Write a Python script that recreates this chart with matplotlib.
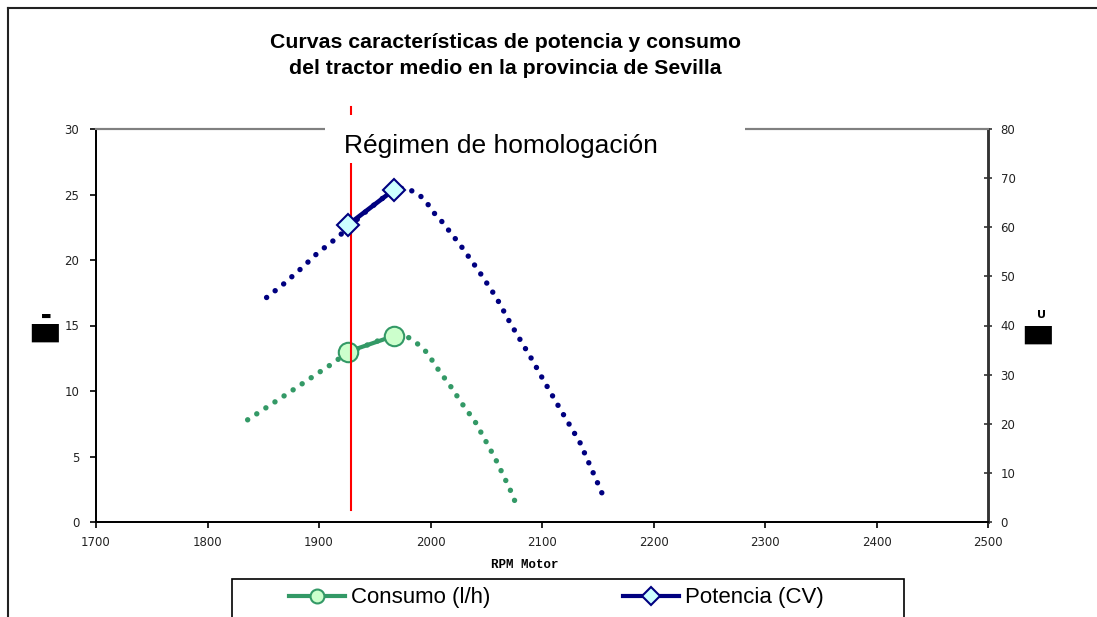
import matplotlib
matplotlib.use("Agg")
import matplotlib.pyplot as plt
from matplotlib import font_manager
from matplotlib.lines import Line2D
from matplotlib.patches import Rectangle

# --- data ---
rpm_consumo_curva = [1836, 1870, 1905, 1914, 1922, 1940, 1955, 1968, 1975, 1980, 1989, 1997,
                     2002, 2007, 2018, 2029, 2040, 2049, 2058, 2066, 2074, 2077]
consumo_curva = [7.8, 9.7, 11.7, 12.2, 12.75, 13.4, 13.9, 14.25, 14.25, 14.1, 13.56, 12.92,
                 12.27, 11.63, 10.36, 8.95, 7.66, 6.26, 4.86, 3.44, 2.0, 1.24]

rpm_potencia_curva = [1853, 1868, 1884, 1898, 1913, 1922, 1940, 1955, 1967, 1975, 1980, 1990,
                      1997, 2002, 2009, 2027, 2043, 2059, 2072, 2082, 2092, 2101, 2115, 2134,
                      2149, 2156]
potencia_curva = [45.7, 48.4, 51.6, 54.6, 57.3, 59.0, 62.8, 65.6, 67.3, 68.0, 67.8, 66.6,
                  64.9, 63.2, 61.5, 56.3, 51.2, 45.7, 40.3, 36.5, 32.7, 29.0, 23.5, 16.2,
                  8.4, 4.7]

rpm_puntos = [1926, 1967]
consumo_puntos = [13.0, 14.2]
potencia_puntos = [60.5, 67.6]

regimen_homologacion = 1929

x_ticks = list(range(1700, 2501, 100))
y_left_ticks = list(range(0, 31, 5))
y_right_ticks = list(range(0, 81, 10))

VERDE = "#339966"
VERDE_CLARO = "#ccffcc"
AZUL = "#000080"
AZUL_CLARO = "#ccffff"

fuentes = {f.name for f in font_manager.fontManager.ttflist}
fuente_leyenda = "Liberation Sans Narrow" if "Liberation Sans Narrow" in fuentes else "Liberation Sans"
tam_leyenda = 19 if fuente_leyenda == "Liberation Sans Narrow" else 16

W, H = 1097, 617
fig = plt.figure(figsize=(W / 100, H / 100), dpi=100)
ax = fig.add_axes([96 / W, 1 - 522 / H, 892 / W, 393 / H])
ax2 = ax.twinx()

# dotted characteristic curves
dotted = (0, (0.01, 2.0))
ax.plot(rpm_consumo_curva, consumo_curva, color=VERDE, lw=3.9, linestyle=dotted,
        dash_capstyle="round", zorder=2)
ax2.plot(rpm_potencia_curva, potencia_curva, color=AZUL, lw=3.9, linestyle=dotted,
         dash_capstyle="round", zorder=2)

# homologation points
ax.plot(rpm_puntos, consumo_puntos, color=VERDE, lw=3, marker="o", markersize=14,
        markerfacecolor=VERDE_CLARO, markeredgecolor=VERDE, markeredgewidth=1.5, zorder=3)
ax2.plot(rpm_puntos, potencia_puntos, color=AZUL, lw=3.3, marker="D", markersize=11.5,
         markerfacecolor=AZUL_CLARO, markeredgecolor=AZUL, markeredgewidth=1.5, zorder=3)

# vertical line at homologation regime
ax.plot([regimen_homologacion, regimen_homologacion], [0.9, 31.7], color="red", lw=1.5,
        clip_on=False, zorder=4)

ax.set_xlim(1700, 2500)
ax.set_ylim(0, 30)
ax2.set_ylim(0, 80)
ax.set_xticks(x_ticks)
ax.set_yticks(y_left_ticks)
ax2.set_yticks(y_right_ticks)

for a in (ax, ax2):
    a.tick_params(labelsize=8.5, labelcolor="#222222", width=1.2)
    a.spines["left"].set_color("black")
    a.spines["bottom"].set_color("black")
    a.spines["top"].set_color("#808080")
    a.spines["right"].set_color("#333333")
    a.spines["left"].set_linewidth(1.3)
    a.spines["bottom"].set_linewidth(1.3)
    a.spines["top"].set_linewidth(1.5)
    a.spines["right"].set_linewidth(1.8)
ax.tick_params(axis="y", direction="out", length=4, pad=8)
ax.tick_params(axis="x", direction="out", length=4, pad=6)
ax2.tick_params(axis="y", direction="inout", length=6, pad=6, color="#333333")

# unreadable axis labels (rendered as blocks in the original)
fig.text(45 / W, 1 - 333 / H, "██", fontsize=13, family="DejaVu Sans", ha="center", va="center")
fig.text(46 / W, 1 - 316 / H, "▬", fontsize=8, family="DejaVu Sans", ha="center", va="center")
fig.text(1038 / W, 1 - 335 / H, "██", fontsize=13, family="DejaVu Sans", ha="center", va="center")
fig.text(1042 / W, 1 - 315 / H, "U", fontsize=8, family="DejaVu Sans", weight="bold",
         ha="center", va="center")

# titles
fig.text(505 / W, 1 - 42 / H, "Curvas características de potencia y consumo",
         fontsize=15.3, family="Liberation Sans", weight="bold", ha="center", va="center")
fig.text(505 / W, 1 - 68 / H, "del tractor medio en la provincia de Sevilla",
         fontsize=15.3, family="Liberation Sans", weight="bold", ha="center", va="center")
fig.text(525 / W, 1 - 565 / H, "RPM Motor", fontsize=9, family="Liberation Mono",
         weight="bold", ha="center", va="center")

# white box with the homologation label over the top spine
fig.patches.append(Rectangle((325 / W, 1 - 163 / H), 420 / W, 48 / H, transform=fig.transFigure,
                             facecolor="white", edgecolor="none", zorder=5))
fig.text(500.5 / W, 1 - 153.3 / H, "Régimen de homologación", fontsize=19,
         family="Liberation Sans", ha="center", va="baseline", zorder=6)

# outer border (top and left only)
fig.add_artist(Line2D([8 / W, 1], [1 - 8 / H, 1 - 8 / H], color="#222222", lw=1.5))
fig.add_artist(Line2D([8 / W, 8 / W], [0, 1 - 8 / H], color="#222222", lw=1.5))

# legend frame, cut off at the bottom
fig.patches.append(Rectangle((232 / W, -20 / H), 672 / W, (20 + 617 - 579) / H,
                             transform=fig.transFigure, facecolor="white",
                             edgecolor="black", lw=1.2, zorder=5))
h_consumo = Line2D([], [], color=VERDE, lw=3, marker="o", markersize=10,
                   markerfacecolor=VERDE_CLARO, markeredgecolor=VERDE, markeredgewidth=1.5)
h_potencia = Line2D([], [], color=AZUL, lw=3, marker="D", markersize=9,
                    markerfacecolor=AZUL_CLARO, markeredgecolor=AZUL, markeredgewidth=1.5)
for handle, label, x0 in ((h_consumo, "Consumo (l/h)", 289), (h_potencia, "Potencia (CV)", 623)):
    leg = fig.legend([handle], [label], loc="center left", bbox_to_anchor=(x0 / W, 1 - 598 / H),
                     frameon=False, borderpad=0, borderaxespad=0, handlelength=2.5,
                     handletextpad=0.3, prop={"family": fuente_leyenda, "size": tam_leyenda})
    leg.set_zorder(6)

fig.savefig("out.png", dpi=100)
